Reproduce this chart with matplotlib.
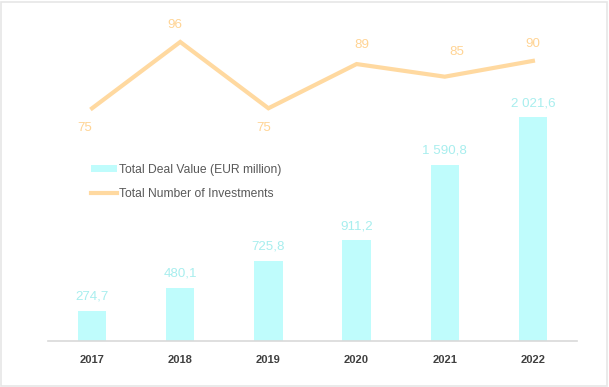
import matplotlib.pyplot as plt
from matplotlib.patches import Rectangle

# data
years = ['2017', '2018', '2019', '2020', '2021', '2022']
deal_value = [274.7, 480.1, 725.8, 911.2, 1590.8, 2021.6]
deal_labels = ['274,7', '480,1', '725,8', '911,2', '1 590,8', '2 021,6']
investments = [75, 96, 75, 89, 85, 90]

# label offsets for the line values (points), hand placed like the original
line_label_offsets = [(-5, -14), (-4, 12), (-3, -14), (4, 14), (9, 18), (0, 12)]

BAR_COLOR = '#BFFCFC'
LINE_COLOR = '#FFD9A0'
BAR_TEXT = '#A8EEEE'
LINE_TEXT = '#FFD494'
GREY_TEXT = '#595959'

plt.rcParams['font.family'] = ['Liberation Sans', 'DejaVu Sans']

fig = plt.figure(figsize=(6.09, 3.87), dpi=100)
fig.patches.append(Rectangle((0.5 / 609, 1.5 / 387), 606.5 / 609, 384 / 387,
                             transform=fig.transFigure, fill=False,
                             edgecolor='#E6E6E6', lw=1.2))

ax = fig.add_axes([48 / 609, 46 / 387, 529 / 609, 312 / 387])
x = range(len(years))
bars = ax.bar(x, deal_value, width=0.32, color=BAR_COLOR, label='Total Deal Value (EUR million)', zorder=2)
ax.set_ylim(0, 2816)
ax.set_xlim(-0.5, len(years) - 0.5)
for xi, v, lab in zip(x, deal_value, deal_labels):
    ax.annotate(lab, (xi, v), xytext=(0, 10), textcoords='offset points',
                ha='center', va='center', color=BAR_TEXT, fontsize=9.6)

ax.set_xticks(list(x))
ax.set_xticklabels(years, fontsize=8, fontweight='bold', color='#404040')
ax.tick_params(axis='x', length=0, pad=10)
ax.set_yticks([])
for s in ['top', 'right', 'left']:
    ax.spines[s].set_visible(False)
ax.spines['bottom'].set_color('#D9D9D9')
ax.spines['bottom'].set_linewidth(1.2)

ax2 = ax.twinx()
line, = ax2.plot(list(x), investments, color=LINE_COLOR, lw=3, solid_joinstyle='miter',
                 label='Total Number of Investments', zorder=3)
ax2.set_ylim(1.3, 100.1)
ax2.set_yticks([])
for s in ax2.spines.values():
    s.set_visible(False)
for xi, v, off in zip(x, investments, line_label_offsets):
    ax2.annotate(str(v), (xi, v), xytext=off, textcoords='offset points',
                 ha='center', va='center', color=LINE_TEXT, fontsize=9.6)

leg = ax.legend([bars, line], ['Total Deal Value (EUR million)', 'Total Number of Investments'],
                loc='upper left', bbox_to_anchor=(80 / 609, (387 - 153) / 387), bbox_transform=fig.transFigure,
                frameon=False, fontsize=8.7, handlelength=2.2, handleheight=0.6,
                handletextpad=0.1, labelspacing=1.0, labelcolor=GREY_TEXT)

fig.savefig('out.png', dpi=100)
